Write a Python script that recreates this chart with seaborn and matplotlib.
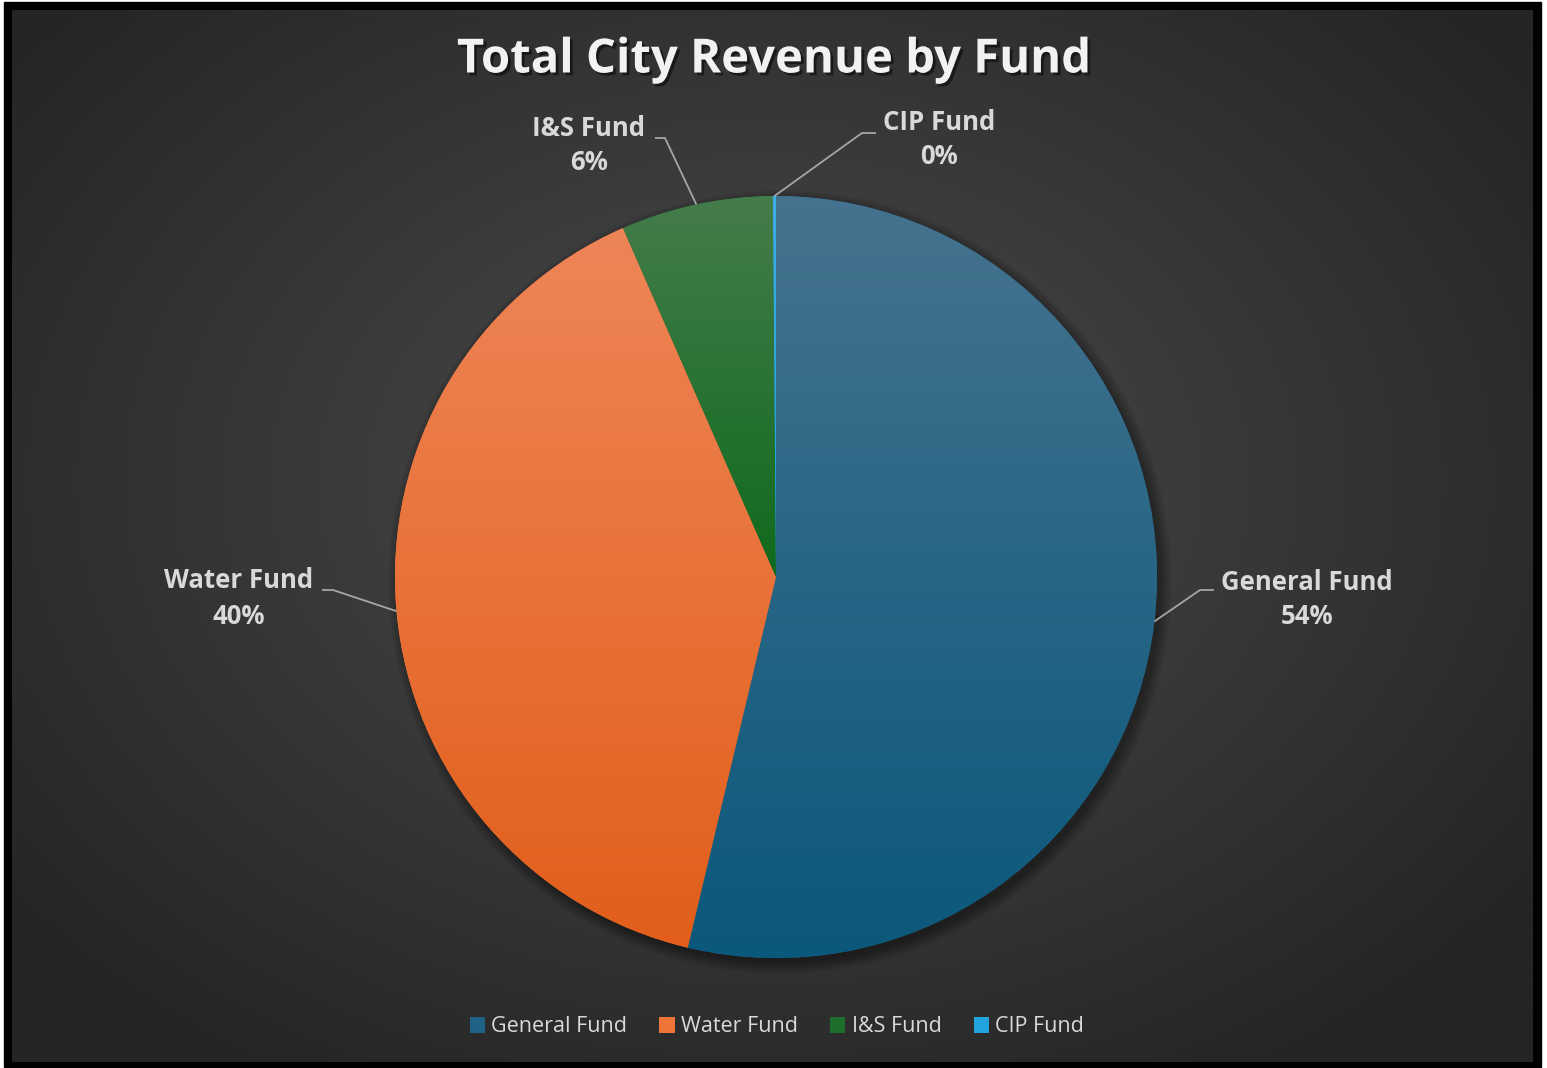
import numpy as np
import matplotlib
matplotlib.use("Agg")
import matplotlib.pyplot as plt
import matplotlib.patheffects as pe
from matplotlib.patches import Rectangle, Circle
from matplotlib.colors import to_rgb
import seaborn as sns

# data (share of total revenue, %)
funds = ["General Fund", "Water Fund", "I&S Fund", "CIP Fund"]
shares = [53.72, 39.70, 6.45, 0.13]

# fill colours (gradient top -> bottom) and legend swatches
top_colors = ["#46738f", "#ee8557", "#457c4c", "#3bb0e6"]
bottom_colors = ["#0a587b", "#e25e1a", "#0f6a1c", "#1a9bd7"]
legend_colors = sns.color_palette(["#1f6286", "#ef7438", "#1d6e2a", "#20a3df"])

sns.set_theme(style="white")
plt.rcParams["font.family"] = ["Open Sans", "DejaVu Sans"]

W, H = 1547, 1068
fig = plt.figure(figsize=(W / 100, H / 100), dpi=100)
ax = fig.add_axes([0, 0, 1, 1])


def Y(y):
    return H - y


# black frame + radial gradient background
ax.add_patch(Rectangle((4, Y(1067)), 1537, 1065, color="black", zorder=0))
gx = np.linspace(12, 1533, 500)
gy = np.linspace(10, 1062, 350)
XX, YY = np.meshgrid(gx, gy)
d = np.sqrt(((XX - 760) / 950) ** 2 + ((YY - 480) / 700) ** 2)
d = np.clip(d, 0, 1)[..., None]
c_in, c_out = np.array(to_rgb("#4c4c4c")), np.array(to_rgb("#252525"))
bg = c_in * (1 - d) + c_out * d
ax.imshow(bg, extent=[12, 1533, Y(1062), Y(10)], origin="upper",
          aspect="auto", zorder=0.5, interpolation="bilinear")

# soft shadow under the pie
cx, cy, r = 776, Y(577), 381
for k in range(10):
    ax.add_patch(Circle((cx + 4, cy - 5), r + k * 1.2, color="black",
                        alpha=0.035, lw=0, zorder=1.5))

wedges, _ = ax.pie(shares, colors=legend_colors, startangle=90, counterclock=False,
                   center=(cx, cy), radius=r,
                   wedgeprops=dict(linewidth=0, zorder=2))

# vertical gradient inside each wedge
for w, ct, cb in zip(wedges, top_colors, bottom_colors):
    v = w.get_path().vertices
    x0, x1 = v[:, 0].min(), v[:, 0].max()
    y0, y1 = v[:, 1].min(), v[:, 1].max()
    t = np.linspace(0, 1, 256)[:, None, None]
    grad = np.array(to_rgb(ct)) * (1 - t) + np.array(to_rgb(cb)) * t
    grad = np.repeat(grad, 2, axis=1)
    im = ax.imshow(grad, extent=[x0 - 1, x1 + 1, y0 - 1, y1 + 1], origin="upper",
                   aspect="auto", zorder=3, interpolation="bilinear")
    im.set_clip_path(w)

# data labels with leader lines
label_pos = [(1307, 582, 1200, 590, 1214), (239, 581, 333, 590, 322),
             (589, 128, 665, 138, 655), (939, 122, 862, 133, 876)]
total = sum(shares)
angle = 90.0
for name, val, (lx, ly, ex, ey, tx) in zip(funds, shares, label_pos):
    span = val / total * 360
    mid = np.deg2rad(angle - span / 2)
    angle -= span
    sx, sy = cx + r * np.cos(mid), cy + r * np.sin(mid)
    ax.plot([sx, ex, tx], [sy, Y(ey), Y(ey)], color="#a6a6a6", lw=1.3,
            zorder=4, solid_capstyle="butt")
    ax.text(lx, Y(ly), name, ha="center", va="center", fontsize=18.5,
            fontweight="bold", color="#d9d9d9", zorder=5)
    ax.text(lx, Y(ly + 35), f"{round(val / total * 100):.0f}%", ha="center",
            va="center", fontsize=18.5, fontweight="bold", color="#d9d9d9", zorder=5)

ax.text(774, Y(60), "Total City Revenue by Fund", ha="center", va="center",
        fontsize=34, fontweight="bold", color="#f2f2f2", zorder=5,
        path_effects=[pe.withSimplePatchShadow(offset=(2, -2), shadow_rgbFace="black", alpha=0.5)])

fig.legend(wedges, funds, loc="center", bbox_to_anchor=(777 / W, 1 - 1027 / H),
           ncol=4, frameon=False, fontsize=15.5, labelcolor="#d9d9d9",
           handlelength=0.7, handleheight=0.7, handletextpad=0.3,
           columnspacing=1.5)

ax.set_xlim(0, W)
ax.set_ylim(0, H)
ax.set_aspect("auto")
ax.axis("off")
fig.savefig("out.png", dpi=100, facecolor="white")
